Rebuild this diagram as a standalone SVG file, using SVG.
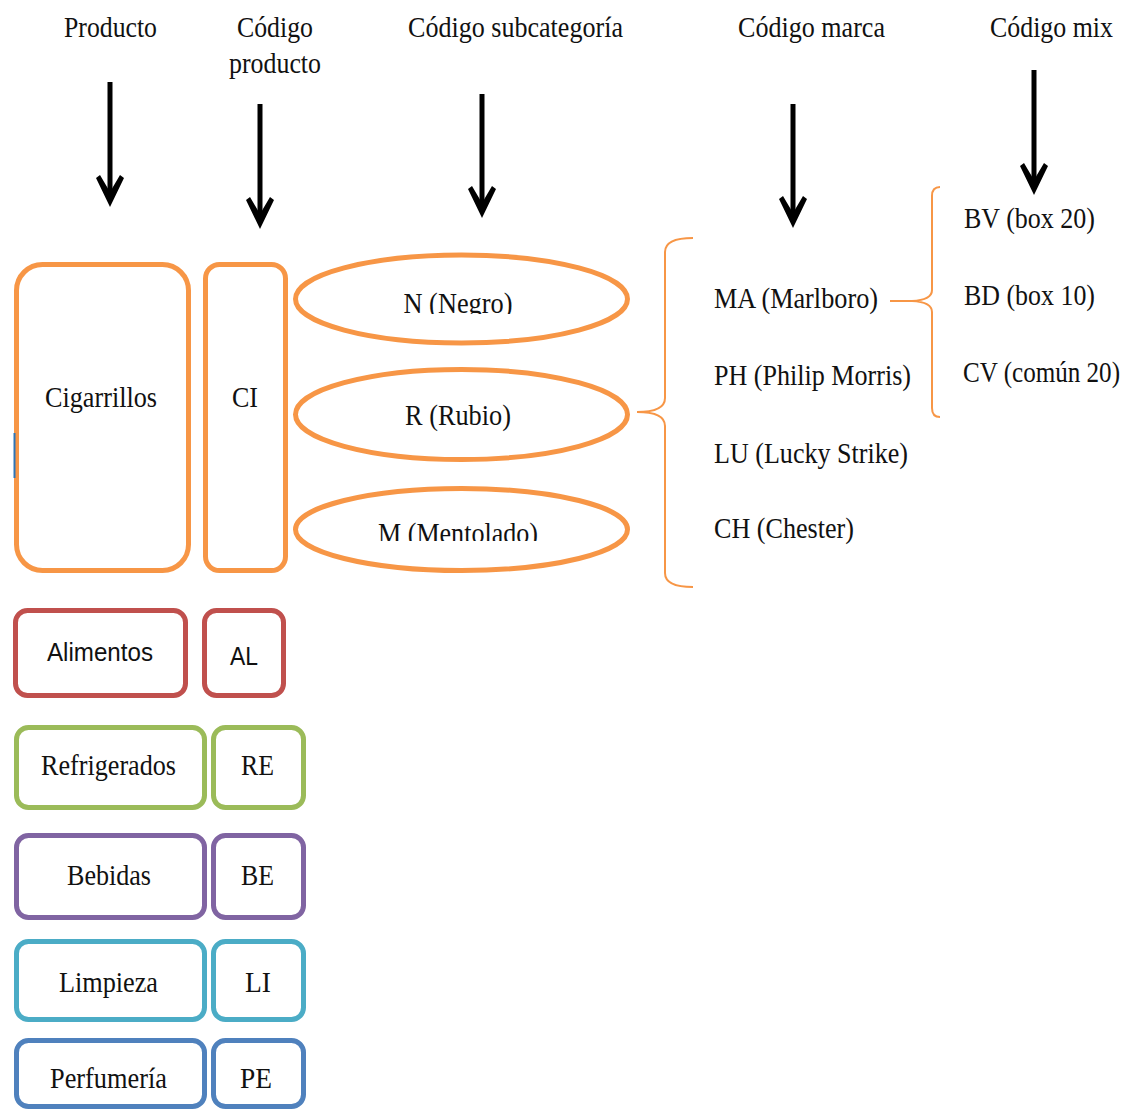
<svg xmlns="http://www.w3.org/2000/svg" width="1133" height="1110" viewBox="0 0 1133 1110">
<style>
.t{font-family:"Liberation Serif","Times New Roman",serif;font-size:29px;fill:#111}
.s{font-family:"Liberation Sans",Arial,sans-serif;font-size:25px;fill:#111}
.c{text-anchor:middle}
.arr{stroke:#000;stroke-width:5;fill:none}
.br{stroke:#F79646;stroke-width:2;fill:none}
.or{stroke:#F79646;stroke-width:5;fill:#fff}
.red{stroke:#C0504D;stroke-width:5;fill:#fff}
.grn{stroke:#9BBB59;stroke-width:5;fill:#fff}
.pur{stroke:#8064A2;stroke-width:5;fill:#fff}
.cyn{stroke:#4BACC6;stroke-width:5;fill:#fff}
.blu{stroke:#4F81BD;stroke-width:5;fill:#fff}
</style>
<defs>
<marker id="ah" markerUnits="userSpaceOnUse" viewBox="0 0 32 30" refX="22" refY="15" markerWidth="32" markerHeight="30" orient="auto">
<path d="M32,15 L3,1 L0,5 L17,15 L0,25 L3,29 Z" fill="#000"/>
</marker>
<clipPath id="clipN"><rect x="380" y="292" width="160" height="22"/></clipPath>
<clipPath id="clipM"><rect x="360" y="520" width="200" height="21"/></clipPath>
</defs>
<rect width="1133" height="1110" fill="#fff"/>

<g id="headers">
<text class="t c" x="110.5" y="37" textLength="93" lengthAdjust="spacingAndGlyphs">Producto</text>
<text class="t c" x="275" y="37" textLength="76" lengthAdjust="spacingAndGlyphs">Código</text>
<text class="t c" x="275" y="73" textLength="92" lengthAdjust="spacingAndGlyphs">producto</text>
<text class="t c" x="515.5" y="37" textLength="215" lengthAdjust="spacingAndGlyphs">Código subcategoría</text>
<text class="t c" x="811.5" y="37" textLength="147" lengthAdjust="spacingAndGlyphs">Código marca</text>
<text class="t c" x="1051.5" y="37" textLength="123" lengthAdjust="spacingAndGlyphs">Código mix</text>
</g>

<g id="connectors">
<line class="arr" x1="110" y1="82" x2="110" y2="197" marker-end="url(#ah)"/>
<line class="arr" x1="260" y1="104" x2="260" y2="219" marker-end="url(#ah)"/>
<line class="arr" x1="482" y1="94" x2="482" y2="208" marker-end="url(#ah)"/>
<line class="arr" x1="793" y1="104" x2="793" y2="218" marker-end="url(#ah)"/>
<line class="arr" x1="1034" y1="70" x2="1034" y2="185" marker-end="url(#ah)"/>
<path class="br" d="M693,238 Q665,238 665,252 L665,398 Q665,412 637,412 Q665,412 665,426 L665,573 Q665,587 693,587"/>
<path class="br" d="M940,187 Q932,187 932,196 L932,290 Q932,300 912,301 L890,301 M912,301 Q932,302 932,312 L932,408 Q932,417 940,417"/>
</g>

<g id="cigarrillos">
<rect class="or" x="16.5" y="264.5" width="172" height="306" rx="26"/>
<line x1="14.5" y1="433" x2="14.5" y2="478" stroke="#2E75B6" stroke-width="2"/>
<text class="t c" x="101" y="407" textLength="112" lengthAdjust="spacingAndGlyphs">Cigarrillos</text>
</g>
<g id="ci">
<rect class="or" x="205.5" y="264.5" width="80" height="306" rx="14"/>
<text class="t c" x="245" y="407" textLength="26" lengthAdjust="spacingAndGlyphs">CI</text>
</g>

<g id="negro">
<ellipse class="or" cx="461.5" cy="299" rx="166" ry="44" stroke-width="4.5"/>
<text class="t c" x="458" y="313" textLength="109" lengthAdjust="spacingAndGlyphs" clip-path="url(#clipN)">N (Negro)</text>
</g>
<g id="rubio">
<ellipse class="or" cx="461.5" cy="414.5" rx="166" ry="45" stroke-width="4.5"/>
<text class="t c" x="458" y="425" textLength="106" lengthAdjust="spacingAndGlyphs">R (Rubio)</text>
</g>
<g id="mentolado">
<ellipse class="or" cx="461.5" cy="529.5" rx="166" ry="41" stroke-width="4.5"/>
<text class="t c" x="458" y="543" textLength="160" lengthAdjust="spacingAndGlyphs" clip-path="url(#clipM)">M (Mentolado)</text>
</g>

<g id="marcas">
<text class="t" x="714" y="308" textLength="164" lengthAdjust="spacingAndGlyphs">MA (Marlboro)</text>
<text class="t" x="714" y="385" textLength="197" lengthAdjust="spacingAndGlyphs">PH (Philip Morris)</text>
<text class="t" x="714" y="463" textLength="194" lengthAdjust="spacingAndGlyphs">LU (Lucky Strike)</text>
<text class="t" x="714" y="538" textLength="140" lengthAdjust="spacingAndGlyphs">CH (Chester)</text>
</g>

<g id="mix">
<text class="t" x="964" y="228" textLength="131" lengthAdjust="spacingAndGlyphs">BV (box 20)</text>
<text class="t" x="964" y="305" textLength="131" lengthAdjust="spacingAndGlyphs">BD (box 10)</text>
<text class="t" x="963" y="382" textLength="157" lengthAdjust="spacingAndGlyphs">CV (común 20)</text>
</g>

<g id="alimentos">
<rect class="red" x="15.5" y="610.5" width="170" height="85" rx="12"/>
<text class="s c" x="100" y="661" textLength="106" lengthAdjust="spacingAndGlyphs">Alimentos</text>
</g>
<g id="al">
<rect class="red" x="204.5" y="610.5" width="79" height="85" rx="12"/>
<text class="s c" x="244" y="665" textLength="28" lengthAdjust="spacingAndGlyphs">AL</text>
</g>

<g id="refrigerados">
<rect class="grn" x="16.5" y="727.5" width="188" height="80" rx="12"/>
<text class="t c" x="108.5" y="775" textLength="135" lengthAdjust="spacingAndGlyphs">Refrigerados</text>
</g>
<g id="re">
<rect class="grn" x="213.5" y="727.5" width="90" height="80" rx="12"/>
<text class="t c" x="257.5" y="775" textLength="33" lengthAdjust="spacingAndGlyphs">RE</text>
</g>

<g id="bebidas">
<rect class="pur" x="16.5" y="835.5" width="188" height="82" rx="12"/>
<text class="t c" x="109" y="885" textLength="84" lengthAdjust="spacingAndGlyphs">Bebidas</text>
</g>
<g id="be">
<rect class="pur" x="213.5" y="835.5" width="90" height="82" rx="12"/>
<text class="t c" x="257.5" y="885" textLength="33" lengthAdjust="spacingAndGlyphs">BE</text>
</g>

<g id="limpieza">
<rect class="cyn" x="16.5" y="941.5" width="188" height="78" rx="12"/>
<text class="t c" x="108.5" y="992" textLength="99" lengthAdjust="spacingAndGlyphs">Limpieza</text>
</g>
<g id="li">
<rect class="cyn" x="213.5" y="941.5" width="90" height="78" rx="12"/>
<text class="t c" x="258" y="992" textLength="26" lengthAdjust="spacingAndGlyphs">LI</text>
</g>

<g id="perfumeria">
<rect class="blu" x="16.5" y="1040.5" width="188" height="66" rx="12"/>
<text class="t c" x="108.5" y="1088" textLength="117" lengthAdjust="spacingAndGlyphs">Perfumería</text>
</g>
<g id="pe">
<rect class="blu" x="213.5" y="1040.5" width="90" height="66" rx="12"/>
<text class="t c" x="256" y="1088" textLength="32" lengthAdjust="spacingAndGlyphs">PE</text>
</g>
</svg>
